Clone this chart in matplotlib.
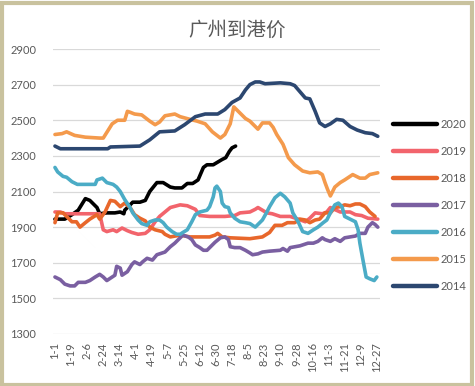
import matplotlib
matplotlib.use("Agg")
import matplotlib.pyplot as plt
from matplotlib.patches import Rectangle

# ---------------- data ----------------
tick_labels = ["1-1", "1-19", "2-6", "2-24", "3-14", "4-1", "4-19", "5-7", "5-25",
               "6-12", "6-30", "7-18", "8-5", "8-23", "9-10", "9-28", "10-16",
               "11-3", "11-21", "12-9", "12-27"]
years = ["2020", "2019", "2018", "2017", "2016", "2015", "2014"]

days_2020 = [0, 11, 19, 26, 34, 39, 47, 50, 58, 67, 73, 77, 78, 87, 95, 101, 106, 114, 121,
             129, 134, 142, 148, 154, 160, 166, 170, 177, 182, 187, 191, 195, 198, 202]
price_2020 = [1945, 1945, 1970, 1995, 2060, 2050, 2010, 1975, 1980, 1980, 1985, 1975, 1995,
              2040, 2040, 2050, 2100, 2150, 2150, 2125, 2120, 2120, 2145, 2145, 2165, 2235,
              2250, 2250, 2265, 2280, 2290, 2325, 2345, 2355]

days_2019 = [0, 6, 11, 50, 54, 58, 65, 69, 75, 81, 86, 93, 101, 106, 112, 117, 129, 140, 148,
             157, 162, 173, 190, 201, 207, 218, 224, 227, 232, 237, 243, 252, 263, 272, 280,
             285, 291, 299, 304, 308, 319, 330, 336, 343, 350, 361]
price_2019 = [1985, 1985, 1975, 1975, 1885, 1875, 1885, 1875, 1895, 1880, 1870, 1860, 1865,
              1885, 1930, 1960, 2010, 2025, 2020, 2000, 1965, 1960, 1960, 1965, 1980, 1985,
              2000, 2010, 1995, 1980, 1975, 1960, 1960, 1945, 1930, 1950, 1980, 1975, 1985,
              2010, 1985, 1985, 1970, 1965, 1950, 1945]

days_2018 = [0, 3, 9, 13, 19, 24, 28, 34, 39, 47, 50, 56, 62, 67, 73, 78, 84, 89, 95, 101,
             106, 112, 120, 123, 129, 140, 151, 173, 179, 182, 187, 196, 218, 232, 240, 246,
             254, 260, 268, 274, 280, 285, 291, 296, 302, 308, 313, 319, 324, 330, 336, 341,
             347, 352, 358]
price_2018 = [1925, 1980, 1980, 1960, 1930, 1930, 1900, 1925, 1945, 1970, 1945, 1985, 2050,
              2045, 2015, 2035, 2010, 1970, 1950, 1935, 1900, 1885, 1875, 1860, 1845, 1855,
              1845, 1845, 1855, 1865, 1845, 1840, 1835, 1845, 1870, 1910, 1910, 1925, 1925,
              1945, 1940, 1925, 1940, 1945, 1980, 1980, 2010, 2015, 2025, 2020, 2030, 2030,
              2015, 1985, 1960]

days_2017 = [0, 6, 11, 17, 22, 26, 34, 39, 45, 50, 54, 58, 64, 67, 69, 73, 75, 81, 86, 89,
             95, 98, 103, 109, 114, 120, 123, 129, 134, 140, 143, 149, 153, 157, 162, 166,
             170, 173, 179, 185, 190, 194, 196, 201, 207, 213, 218, 221, 227, 232, 240, 252,
             255, 260, 263, 274, 283, 289, 294, 299, 302, 308, 313, 319, 324, 330, 336, 341,
             347, 350, 355, 358, 361]
price_2017 = [1620, 1605, 1580, 1570, 1570, 1590, 1590, 1600, 1620, 1635, 1620, 1600, 1620,
              1630, 1680, 1670, 1630, 1650, 1690, 1705, 1690, 1705, 1725, 1715, 1745, 1755,
              1760, 1790, 1810, 1840, 1855, 1845, 1830, 1800, 1785, 1770, 1770, 1785, 1815,
              1840, 1845, 1830, 1790, 1785, 1785, 1770, 1755, 1745, 1750, 1760, 1765, 1770,
              1780, 1765, 1785, 1795, 1810, 1810, 1820, 1840, 1830, 1820, 1835, 1820, 1840,
              1845, 1850, 1865, 1865, 1900, 1925, 1915, 1900]

days_2016 = [0, 3, 9, 13, 19, 25, 34, 45, 47, 53, 58, 65, 69, 73, 78, 84, 87, 93, 97, 103,
             106, 112, 117, 121, 125, 131, 136, 140, 143, 148, 153, 157, 162, 170, 173, 177,
             179, 181, 185, 187, 190, 194, 196, 201, 207, 213, 218, 224, 227, 232, 237, 240,
             246, 252, 257, 263, 266, 272, 277, 283, 289, 294, 300, 304, 308, 313, 317, 321,
             324, 330, 336, 339, 341, 345, 348, 352, 357, 360]
price_2016 = [2235, 2210, 2185, 2180, 2155, 2140, 2140, 2140, 2165, 2175, 2150, 2140, 2125,
              2100, 2055, 2010, 1980, 1940, 1920, 1910, 1930, 1940, 1940, 1925, 1900, 1875,
              1860, 1860, 1870, 1885, 1930, 1970, 1985, 1995, 2015, 2070, 2120, 2130, 2100,
              2035, 2015, 2010, 1980, 1950, 1930, 1925, 1920, 1900, 1915, 1940, 1985, 2015,
              2065, 2090, 2070, 2035, 1980, 1930, 1875, 1865, 1885, 1900, 1925, 1940, 1980,
              2025, 2035, 2015, 1960, 1945, 1930, 1885, 1810, 1700, 1620, 1610, 1600, 1620]

days_2015 = [0, 8, 13, 22, 34, 50, 54, 59, 64, 70, 78, 81, 84, 89, 97, 106, 112, 117, 123,
             134, 140, 151, 159, 168, 176, 185, 190, 196, 200, 205, 209, 213, 218, 224, 227,
             232, 240, 244, 248, 255, 261, 268, 277, 285, 294, 299, 302, 305, 308, 313, 319,
             324, 333, 341, 347, 352, 361]
price_2015 = [2420, 2425, 2435, 2415, 2405, 2400, 2400, 2440, 2480, 2500, 2500, 2550, 2545,
              2535, 2530, 2495, 2475, 2490, 2525, 2535, 2520, 2505, 2495, 2480, 2435, 2400,
              2420, 2480, 2575, 2550, 2530, 2510, 2495, 2465, 2450, 2485, 2485, 2460, 2420,
              2365, 2290, 2250, 2215, 2205, 2210, 2195, 2150, 2110, 2075, 2125, 2150, 2165,
              2195, 2175, 2175, 2195, 2205]

days_2014 = [0, 6, 59, 62, 95, 106, 117, 134, 145, 157, 168, 182, 190, 198, 207, 213, 218,
             224, 229, 235, 252, 263, 268, 274, 280, 285, 291, 296, 302, 308, 315, 322, 330,
             338, 347, 355, 361]
price_2014 = [2355, 2340, 2340, 2350, 2355, 2390, 2435, 2440, 2475, 2520, 2535, 2535, 2560,
              2600, 2625, 2670, 2700, 2715, 2715, 2705, 2710, 2705, 2695, 2660, 2625, 2620,
              2550, 2485, 2465, 2480, 2505, 2500, 2465, 2445, 2430, 2425, 2410]

series_days = [days_2020, days_2019, days_2018, days_2017, days_2016, days_2015, days_2014]
series_price = [price_2020, price_2019, price_2018, price_2017, price_2016, price_2015, price_2014]
colors = ["#000000", "#F2646C", "#E8672B", "#7A5FA1", "#4BACC6", "#F49A4C", "#2C4770"]

# ---------------- figure ----------------
W, H = 475, 386
fig = plt.figure(figsize=(W / 100, H / 100), dpi=100)
fig.patch.set_facecolor("white")
fig.patches.append(Rectangle((1.5 / W, 1.5 / H), 1 - 4.5 / W, 1 - 4.5 / H,
                             transform=fig.transFigure, fill=False,
                             edgecolor="#C9C29E", linewidth=3.0))

ax = fig.add_axes([53 / W, 52 / H, (380 - 53) / W, (334 - 49) / H])
ax.set_facecolor("white")

for yr, d, p, c in zip(years, series_days, series_price, colors):
    ax.plot(d, p, color=c, lw=2.6, label=yr, solid_capstyle="round",
            solid_joinstyle="round")

ax.set_ylim(1300, 2900)
ax.set_yticks(range(1300, 2901, 200))
ax.set_xlim(-2.2, 363.5)
ax.set_xticks([i * 18 for i in range(len(tick_labels))])
ax.set_xticklabels(tick_labels, rotation=90)

ax.grid(axis="y", color="#D9D9D9", lw=0.9)
ax.set_axisbelow(True)
for s in ax.spines.values():
    s.set_visible(False)
ax.tick_params(axis="both", length=0, labelsize=8, labelcolor="#595959")
ax.tick_params(axis="y", pad=12)
ax.tick_params(axis="x", pad=6)
for lab in ax.get_xticklabels() + ax.get_yticklabels():
    lab.set_fontfamily("Lato")

fig.text(237 / W, 1 - 30 / H, "广州到港价", ha="center", va="center",
         fontsize=14, color="#595959", family=["Noto Sans CJK SC", "DejaVu Sans"])

leg = ax.legend(loc="center left", bbox_to_anchor=(393 / W, 180.5 / H),
                bbox_transform=fig.transFigure, frameon=False, borderpad=0,
                borderaxespad=0, handlelength=4.0, handletextpad=0.3,
                labelspacing=1.45, prop={"family": "Lato", "size": 8})
for t in leg.get_texts():
    t.set_color("#595959")
for h in leg.get_lines():
    h.set_linewidth(3.2)

fig.savefig("out.png", dpi=100, facecolor=fig.get_facecolor())
